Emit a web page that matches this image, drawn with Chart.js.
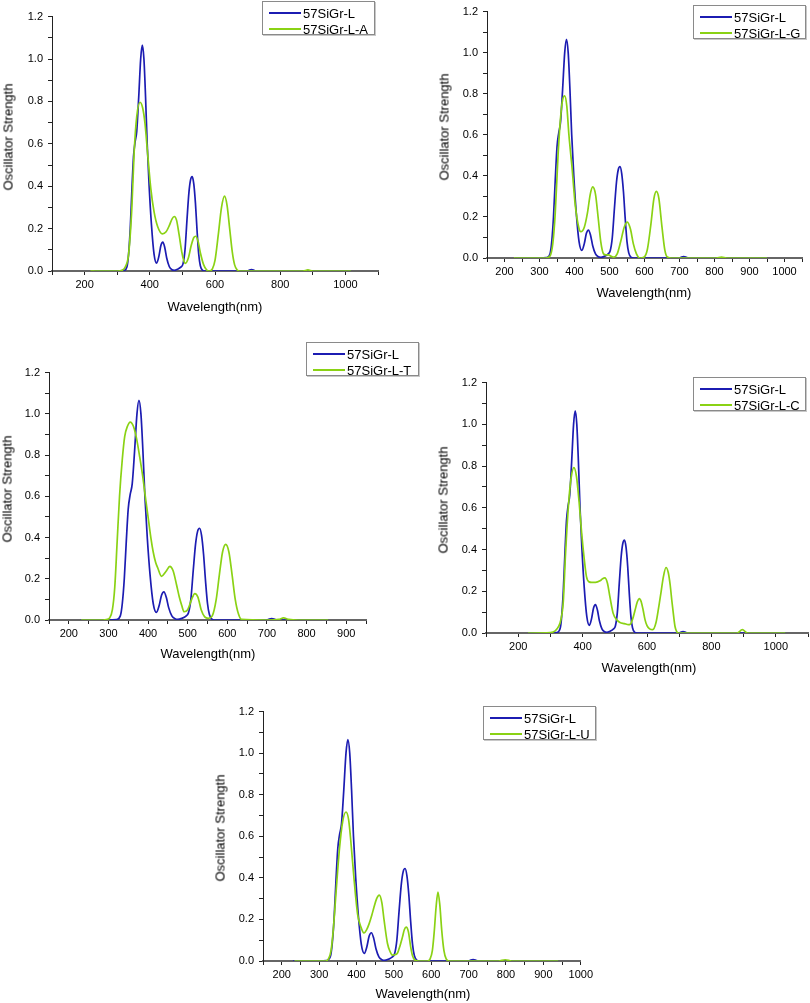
<!DOCTYPE html>
<html><head><meta charset="utf-8">
<script src="https://cdn.jsdelivr.net/npm/chart.js@4.4.0/dist/chart.umd.min.js"></script>
<style>
html,body{margin:0;padding:0;background:#fff;}
body{width:810px;height:1003px;position:relative;overflow:hidden;font-family:"Liberation Sans",Arial,sans-serif;}
.cv{position:absolute;}
.leg{position:absolute;border:1px solid #8a8a8a;background:#fff;box-shadow:1px 1px 0 #c8c8c8;box-sizing:border-box;}
.leg .ln{position:absolute;height:2px;}
.leg .tx{position:absolute;font-size:13px;line-height:13px;color:#000;white-space:nowrap;transform:translateY(-50%);}
.ttl{position:absolute;font-size:13px;font-weight:normal;color:#000;white-space:nowrap;transform:translate(-50%,-50%);}
.ttl.v{transform:translate(-50%,-50%) rotate(-90deg);}
</style></head><body>
<script>
// ---- data ----
const seriesNames = ["57SiGr-L", "57SiGr-L-A", "57SiGr-L-G", "57SiGr-L-T", "57SiGr-L-C", "57SiGr-L-U"];
const xTitle = "Wavelength(nm)";
const yTitle = "Oscillator Strength";

// 57SiGr-L (shared reference curve)
const L_wl = [230,300,320,330,335,340,345,350,355,360,366,372,377,382,387,392,398,405,413,421,428,434,440,446,452,460,468,475,485,495,502,508,514,520,525,530,535,540,545,550,555,562,570,700,706,712,718,725,1020];
const L_f  = [0,0,0.002,0.02,0.08,0.2,0.38,0.54,0.61,0.66,0.82,1.0,1.065,1.0,0.82,0.6,0.4,0.22,0.08,0.037,0.07,0.12,0.136,0.11,0.06,0.02,0.006,0.003,0.008,0.018,0.035,0.1,0.24,0.37,0.43,0.445,0.41,0.32,0.19,0.08,0.025,0.003,0,0,0.005,0.007,0.005,0,0];

// 57SiGr-L-A
const A_wl = [218,300,315,325,335,345,352,360,370,378,385,393,403,413,424,439,450,460,468,475,482,490,498,505,509,518,527,535,541,548,556,565,574,582,592,600,610,620,629,637,645,653,660,668,676,870,885,900,1017];
const A_f  = [0,0,0.003,0.02,0.08,0.3,0.56,0.73,0.796,0.77,0.7,0.56,0.39,0.28,0.21,0.175,0.185,0.215,0.245,0.257,0.24,0.17,0.09,0.045,0.036,0.06,0.12,0.158,0.164,0.14,0.08,0.03,0.006,0,0.01,0.05,0.17,0.3,0.353,0.31,0.2,0.09,0.03,0.005,0,0,0.005,0,0];

// 57SiGr-L-G
const G_wl = [227,318,330,338,345,353,360,366,372,378,384,393,402,412,418,428,437,445,452,460,468,475,483,490,497,505,512,522,532,542,551,560,568,577,587,598,608,618,627,634,641,650,658,665,675,805,820,835,950];
const G_f  = [0,0,0.01,0.07,0.22,0.5,0.68,0.77,0.79,0.74,0.6,0.44,0.26,0.15,0.128,0.15,0.22,0.31,0.346,0.31,0.19,0.08,0.02,0.015,0.015,0.008,0.004,0.02,0.08,0.15,0.175,0.14,0.07,0.02,0,0.003,0.04,0.16,0.29,0.324,0.29,0.15,0.04,0.005,0,0,0.004,0,0];

// 57SiGr-L-T
const T_wl = [231,286,295,303,310,316,322,328,335,341,348,355,363,371,379,387,393,400,407,413,419,425,434,445,455,463,472,479,485,491,500,510,518,526,534,543,552,562,572,580,588,596,604,612,620,628,636,700,730,742,755,780,855];
const T_f  = [0,0,0.002,0.01,0.05,0.16,0.38,0.6,0.78,0.89,0.94,0.96,0.94,0.88,0.79,0.69,0.6,0.5,0.4,0.33,0.28,0.25,0.212,0.235,0.26,0.24,0.17,0.11,0.07,0.04,0.05,0.1,0.128,0.11,0.05,0.015,0.008,0.02,0.1,0.22,0.33,0.367,0.33,0.22,0.1,0.03,0.003,0,0.003,0.01,0.003,0,0];

// 57SiGr-L-C
const C_wl = [230,300,315,325,332,340,347,357,365,373,381,389,397,404,412,420,428,440,454,462,469,477,485,495,506,516,530,542,548,556,563,570,576,582,588,594,600,608,618,628,636,644,651,659,666,672,677,682,687,692,697,880,896,912,1030];
const C_f  = [0,0.002,0.01,0.03,0.06,0.15,0.38,0.63,0.75,0.793,0.75,0.63,0.48,0.37,0.27,0.245,0.243,0.243,0.25,0.26,0.264,0.24,0.172,0.094,0.063,0.05,0.045,0.04,0.042,0.07,0.11,0.15,0.165,0.15,0.11,0.063,0.035,0.02,0.016,0.05,0.12,0.2,0.27,0.314,0.29,0.23,0.157,0.09,0.031,0.008,0,0,0.016,0,0];

// 57SiGr-L-U
const U_wl = [234,318,325,332,338,345,354,363,372,379,385,394,403,412,420,427,434,441,447,454,461,468,474,483,490,496,502,509,516,523,528,533,539,545,550,556,567,590,597,603,608,613,618,623,628,634,640,648,780,798,815,940];
const U_f  = [0,0,0.01,0.05,0.15,0.32,0.53,0.67,0.717,0.68,0.575,0.385,0.226,0.163,0.135,0.15,0.18,0.22,0.26,0.3,0.317,0.28,0.195,0.084,0.045,0.028,0.03,0.036,0.07,0.115,0.15,0.163,0.14,0.068,0.025,0.005,0,0,0.01,0.05,0.14,0.26,0.332,0.27,0.15,0.05,0.01,0,0,0.006,0,0];

// ---- layout (positions only) ----
const panels = [
  {wl:A_wl, f:A_f, name:1, plot:[52,13,378,271],  xr:[100,1100], step:100, major:200, end:1017, leg:[262,1],   xt:[215,306], yt:[8,137]},
  {wl:G_wl, f:G_f, name:2, plot:[487,8,802,258],  xr:[150,1050], step:50,  major:100, end:950,  leg:[693,5],   xt:[644,292], yt:[444,127]},
  {wl:T_wl, f:T_f, name:3, plot:[49,369,366,620], xr:[150,950],  step:50,  major:100, end:855,  leg:[306,342], xt:[208,653], yt:[7,489]},
  {wl:C_wl, f:C_f, name:4, plot:[486,379,808,633],xr:[100,1100], step:100, major:200, end:1030, leg:[693,377], xt:[649,667], yt:[443,500]},
  {wl:U_wl, f:U_f, name:5, plot:[263,708,582,961],xr:[150,1000], step:50,  major:100, end:940,  leg:[483,706], xt:[423,993], yt:[220,828]}
];
const BLUE = '#1c1cb2', GREEN = '#8ad214';
const FONT = {family:'"Liberation Sans", Arial, sans-serif', size:11};

function addText(cls, txt, x, y) {
  const d = document.createElement('div');
  d.className = cls; d.textContent = txt;
  d.style.left = x + 'px'; d.style.top = y + 'px';
  document.body.appendChild(d);
}

function addLegend(p, labels, colors) {
  const box = document.createElement('div');
  box.className = 'leg';
  box.style.left = p.leg[0] + 'px'; box.style.top = p.leg[1] + 'px';
  box.style.width = '113px'; box.style.height = '34px';
  [11, 27].forEach((ry, i) => {
    const ln = document.createElement('div');
    ln.className = 'ln'; ln.style.background = colors[i];
    ln.style.left = '6px'; ln.style.width = '32px'; ln.style.top = (ry - 1) + 'px';
    box.appendChild(ln);
    const tx = document.createElement('div');
    tx.className = 'tx'; tx.textContent = labels[i];
    tx.style.left = '40px'; tx.style.top = ry + 'px';
    box.appendChild(tx);
  });
  document.body.appendChild(box);
}

panels.forEach(p => {
  const WY = 40, HX = 30, PT = 8, PR = 14;
  const [L, T, R, B] = p.plot;
  const w = R - L + WY + PR, h = B - T + PT + HX;
  const c = document.createElement('canvas');
  c.className = 'cv'; c.width = w; c.height = h;
  c.style.left = (L - WY) + 'px'; c.style.top = (T - PT) + 'px';
  c.style.width = w + 'px'; c.style.height = h + 'px';
  document.body.appendChild(c);

  const blue = L_wl.map((x, i) => ({x, y: L_f[i]})).filter(pt => pt.x <= p.end);
  if (blue[blue.length - 1].x < p.end) blue.push({x: p.end, y: 0});
  const green = p.wl.map((x, i) => ({x, y: p.f[i]}));

  new Chart(c, {
    type: 'line',
    data: {datasets: [
      {label: seriesNames[0], data: blue, borderColor: BLUE, borderWidth: 1.7, pointRadius: 0, cubicInterpolationMode: 'monotone', fill: false, order: 1},
      {label: seriesNames[p.name], data: green, borderColor: GREEN, borderWidth: 1.7, pointRadius: 0, cubicInterpolationMode: 'monotone', fill: false, order: 0}
    ]},
    options: {
      responsive: false, animation: false, events: [],
      layout: {padding: {top: PT, right: PR, left: 0, bottom: 0}},
      plugins: {legend: {display: false}, tooltip: {enabled: false}},
      scales: {
        x: {
          type: 'linear', min: p.xr[0], max: p.xr[1],
          afterFit: s => { s.height = HX; },
          ticks: {stepSize: p.step, autoSkip: false, maxRotation: 0, padding: 3, color: '#000', font: FONT,
                  callback: v => (v % p.major === 0 ? String(v) : '')},
          grid: {drawOnChartArea: false, tickLength: 4, tickColor: '#222', tickWidth: 1},
          border: {color: '#666', width: 2}
        },
        y: {
          min: 0, max: 1.2,
          afterFit: s => { s.width = WY; },
          ticks: {stepSize: 0.1, autoSkip: false, padding: 5, color: '#000', font: FONT,
                  callback: v => (Math.round(v * 10) % 2 === 0 ? v.toFixed(1) : '')},
          grid: {drawOnChartArea: false, tickLength: 4, tickColor: '#222', tickWidth: 1},
          border: {color: '#222', width: 1}
        }
      }
    }
  });

  addLegend(p, [seriesNames[0], seriesNames[p.name]], [BLUE, GREEN]);
  addText('ttl', xTitle, p.xt[0], p.xt[1]);
  addText('ttl v', yTitle, p.yt[0], p.yt[1]);
});
</script>
</body></html>
